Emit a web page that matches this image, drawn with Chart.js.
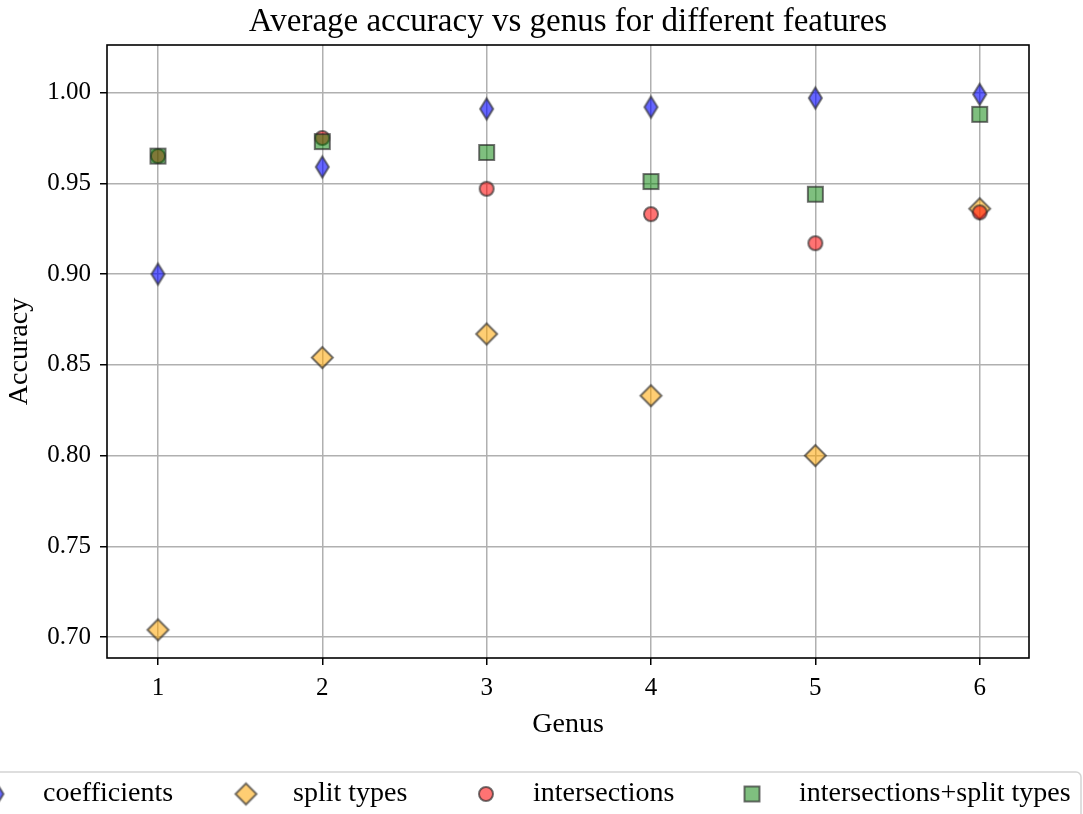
<!DOCTYPE html>
<html>
<head>
<meta charset="utf-8">
<script src="https://cdn.jsdelivr.net/npm/chart.js@4.4.0/dist/chart.umd.min.js"></script>
<style>
  html, body { margin: 0; padding: 0; background: #fff; }
  #wrap { width: 1083px; height: 814px; position: relative; }
</style>
</head>
<body>
<div id="wrap"><canvas id="myChart"></canvas></div>
<script>
// data
const genus = [1, 2, 3, 4, 5, 6];
const coefficients = [0.900, 0.959, 0.991, 0.992, 0.997, 0.999];
const splitTypes = [0.704, 0.854, 0.867, 0.833, 0.800, 0.936];
const intersections = [0.965, 0.975, 0.947, 0.933, 0.917, 0.934];
const interSplit = [0.965, 0.973, 0.967, 0.951, 0.944, 0.988];
const seriesNames = ['coefficients', 'split types', 'intersections', 'intersections+split types'];
const xTicks = [1, 2, 3, 4, 5, 6];
const yTicks = [0.70, 0.75, 0.80, 0.85, 0.90, 0.95, 1.00];
const titleText = 'Average accuracy vs genus for different features';

const FONT = '"Liberation Serif", "DejaVu Serif", serif';
const EDGE = 'rgba(40,40,40,0.65)';

// marker images, so plot and legend look the same
function makeMarker(shape, w, h, fill) {
  const c = document.createElement('canvas');
  c.width = w + 4; c.height = h + 4;
  const g = c.getContext('2d');
  const cx = c.width / 2, cy = c.height / 2;
  const hw = w / 2 - 1, hh = h / 2 - 1;
  g.beginPath();
  if (shape == 'diamond') {
    g.moveTo(cx, cy - hh); g.lineTo(cx + hw, cy); g.lineTo(cx, cy + hh); g.lineTo(cx - hw, cy); g.closePath();
  } else if (shape == 'circle') {
    g.arc(cx, cy, hw, 0, Math.PI * 2);
  } else {
    g.rect(cx - hw, cy - hh, hw * 2, hh * 2);
  }
  g.fillStyle = fill;
  g.fill();
  g.lineWidth = 2;
  g.lineJoin = 'miter';
  g.strokeStyle = EDGE;
  g.stroke();
  return c;
}

const markers = [
  makeMarker('diamond', 15, 23, 'rgba(0,0,255,0.6)'),
  makeMarker('diamond', 23, 23, 'rgba(255,165,0,0.55)'),
  makeMarker('circle', 16, 16, 'rgba(255,0,0,0.55)'),
  makeMarker('square', 17, 17, 'rgba(0,128,0,0.5)')
];
const seriesValues = [coefficients, splitTypes, intersections, interSplit];

const decor = {
  id: 'decor',
  afterDraw(chart) {
    const ctx = chart.ctx, a = chart.chartArea;
    ctx.save();
    ctx.strokeStyle = '#000';
    ctx.lineWidth = 1.6;
    ctx.strokeRect(a.left, a.top, a.right - a.left, a.bottom - a.top);

    ctx.fillStyle = '#000';
    ctx.textAlign = 'center';
    ctx.textBaseline = 'alphabetic';
    ctx.font = '33px ' + FONT;
    ctx.fillText(titleText, (a.left + a.right) / 2, 31);

    ctx.font = '28px ' + FONT;
    ctx.fillText('Genus', (a.left + a.right) / 2, 732);
    ctx.save();
    ctx.translate(27, (a.top + a.bottom) / 2);
    ctx.rotate(-Math.PI / 2);
    ctx.fillText('Accuracy', 0, 0);
    ctx.restore();

    // legend box, runs off the left edge like the original
    ctx.beginPath();
    ctx.roundRect(-20, 772, 1101, 70, 5);
    ctx.fillStyle = 'rgba(255,255,255,0.8)';
    ctx.fill();
    ctx.strokeStyle = '#d4d4d4';
    ctx.lineWidth = 1.5;
    ctx.stroke();

    const markX = [-3, 246, 486, 752];
    const textX = [43, 293, 533, 799];
    const ly = 794;
    ctx.font = '28px ' + FONT;
    ctx.textAlign = 'left';
    ctx.textBaseline = 'middle';
    ctx.fillStyle = '#000';
    for (let i = 0; i < seriesNames.length; i++) {
      const m = markers[i];
      ctx.drawImage(m, markX[i] - m.width / 2, ly - m.height / 2);
      ctx.fillText(seriesNames[i], textX[i], ly);
    }
    ctx.restore();
  }
};

const datasets = [];
for (let i = 0; i < seriesNames.length; i++) {
  datasets.push({
    label: seriesNames[i],
    data: genus.map((g, j) => ({ x: g, y: seriesValues[i][j] })),
    pointStyle: markers[i],
    order: seriesNames.length - i
  });
}

const gridOpts = {
  color: '#b0b0b0',
  lineWidth: 1.5,
  tickColor: '#000',
  tickLength: 7,
  tickWidth: 1.5
};

const ctx = document.getElementById('myChart').getContext('2d');
const myChart = new Chart(ctx, {
  type: 'scatter',
  data: { datasets: datasets },
  options: {
    responsive: true,
    maintainAspectRatio: false,
    animation: false,
    layout: { padding: { top: 45, right: 54, left: 0, bottom: 0 } },
    plugins: {
      legend: { display: false },
      title: { display: false },
      tooltip: { enabled: false }
    },
    scales: {
      x: {
        type: 'linear',
        min: 0.69,
        max: 6.30,
        grid: gridOpts,
        border: { display: false },
        afterBuildTicks: (s) => { s.ticks = xTicks.map(v => ({ value: v })); },
        afterFit: (s) => { s.height = 156; },
        ticks: {
          color: '#000',
          padding: 8,
          font: { family: FONT, size: 25 },
          callback: (v) => String(v)
        }
      },
      y: {
        type: 'linear',
        min: 0.6885,
        max: 1.0262,
        grid: gridOpts,
        border: { display: false },
        afterBuildTicks: (s) => { s.ticks = yTicks.map(v => ({ value: v })); },
        afterFit: (s) => { s.width = 107; },
        ticks: {
          color: '#000',
          padding: 9,
          font: { family: FONT, size: 25 },
          callback: (v) => Number(v).toFixed(2)
        }
      }
    }
  },
  plugins: [decor]
});
</script>
</body>
</html>
